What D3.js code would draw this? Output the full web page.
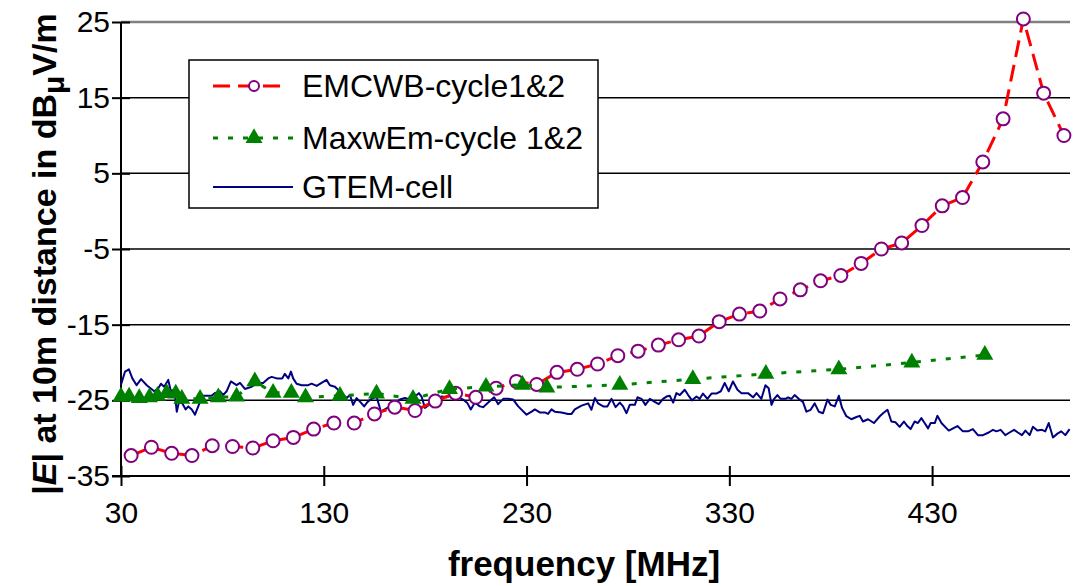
<!DOCTYPE html>
<html>
<head>
<meta charset="utf-8">
<script src="https://cdn.jsdelivr.net/npm/d3@7"></script>
<style>
  body { margin: 0; background: #fff; }
  text { font-family: Arial, "Liberation Sans", sans-serif; }
</style>
</head>
<body>
<script>
// Field strength vs frequency, three measurement methods

const xTicks = [30, 130, 230, 330, 430];
const yTicks = [-35, -25, -15, -5, 5, 15, 25];

// EMCWB-cycle1&2 (one point every 10 MHz)
const emcwbFreq = [35, 45, 55, 65, 75, 85, 95, 105, 115, 125, 135, 145, 155, 165, 175, 185,
    195, 205, 215, 225, 235, 245, 255, 265, 275, 285, 295, 305, 315, 325, 335, 345, 355,
    365, 375, 385, 395, 405, 415, 425, 435, 445, 455, 465, 475, 485, 495];
const emcwbLevel = [-32.3, -31.2, -32.0, -32.3, -31.0, -31.1, -31.3, -30.35, -29.9, -28.8,
    -28.0, -28.0, -26.8, -25.9, -26.35, -25.1, -24.05, -24.6, -23.4, -22.5, -22.9, -21.3,
    -20.9, -20.2, -19.1, -18.5, -17.7, -17.0, -16.5, -14.6, -13.6, -13.2, -11.6, -10.4,
    -9.2, -8.5, -6.9, -5.0, -4.2, -1.9, 0.7, 1.8, 6.5, 12.2, 25.4, 15.6, 10.0];

// MaxwEm-cycle 1&2
const maxwemPoints = [[30, -24.5], [34, -24.5], [39, -24.7], [44, -24.6], [48, -24.4],
    [52.5, -24.05], [57, -24.1], [60, -24.8], [69, -24.8], [78, -24.6], [87, -24.5],
    [96, -22.5], [105, -24.0], [114, -24.0], [121, -24.6], [138, -24.4], [156, -24.1],
    [174, -24.8], [192, -23.5], [210, -23.2], [228, -22.95], [240, -23.3], [276, -22.95],
    [312, -22.2], [348, -21.5], [384, -20.9], [420, -20.0], [456, -19.0]];

// GTEM-cell sweep
const gtemPoints = [[30.0,-22.95],[32.0,-21.2],[33.9,-20.9],[35.6,-22.1],[37.7,-23.0],[39.9,-22.2],
    [42.7,-23.0],[46.4,-23.8],[48.4,-23.4],[49.7,-22.8],[51.3,-23.2],[53.3,-22.3],[54.6,-23.8],
    [56.3,-23.6],[57.5,-26.5],[58.6,-25.2],[60.2,-25.4],[61.9,-26.2],[63.2,-25.8],[64.9,-26.2],
    [66.5,-26.9],[68.1,-25.8],[70.1,-24.4],[72.2,-24.4],[74.7,-24.4],[76.3,-24.05],[78.8,-23.8],
    [80.4,-24.3],[82.1,-23.8],[84.2,-22.5],[87.0,-23.0],[88.7,-22.7],[91.1,-23.5],[94.4,-23.2],
    [97.7,-22.7],[100.1,-22.7],[102.6,-22.1],[104.3,-21.9],[106.8,-22.1],[109.5,-22.1],[110.8,-21.5],
    [112.5,-22.1],[113.8,-21.2],[114.9,-22.1],[116.6,-22.8],[119.1,-23.0],[122.3,-23.0],[124.0,-22.8],
    [126.5,-23.1],[128.9,-22.7],[131.4,-22.3],[133.0,-23.0],[135.5,-23.2],[138.8,-24.05],[141.3,-24.7],
    [142.9,-24.3],[144.5,-25.6],[146.2,-24.7],[148.3,-25.3],[149.9,-25.8],[151.6,-25.2],[153.6,-24.8],
    [156.0,-24.5],[158.2,-26.5],[160.1,-26.2],[162.6,-25.8],[165.1,-25.4],[167.5,-24.9],[170.0,-24.7],
    [172.5,-24.9],[174.9,-24.5],[176.9,-24.05],[178.2,-24.5],[179.9,-26.0],[181.8,-25.6],[184.0,-25.3],
    [186.4,-24.8],[188.1,-24.5],[190.6,-24.6],[193.0,-24.3],[196.3,-24.6],[198.7,-24.9],[200.9,-25.4],
    [202.5,-26.2],[204.5,-25.3],[207.0,-25.8],[208.6,-25.9],[211.1,-25.3],[214.0,-24.6],[216.0,-25.5],
    [218.5,-24.8],[220.9,-24.8],[223.4,-24.9],[225.9,-25.8],[230.0,-26.9],[232.5,-26.5],[234.1,-26.2],
    [236.5,-26.6],[239.0,-26.6],[240.6,-26.8],[242.3,-26.2],[243.9,-26.5],[247.2,-26.6],[250.5,-26.8],
    [252.2,-26.8],[253.8,-26.2],[257.1,-25.7],[260.4,-25.4],[262.0,-26.25],[263.7,-24.7],[265.3,-25.4],
    [267.8,-25.8],[269.9,-25.8],[271.9,-24.8],[273.9,-25.9],[276.0,-25.3],[277.6,-25.8],[279.3,-26.7],
    [280.9,-25.6],[283.4,-25.6],[284.7,-24.6],[286.7,-24.8],[288.6,-25.6],[290.8,-24.8],[293.2,-25.2],
    [295.2,-25.5],[297.3,-24.8],[299.0,-24.5],[300.6,-24.4],[302.3,-25.3],[303.9,-24.05],[305.6,-24.3],
    [308.0,-23.6],[309.7,-24.3],[311.6,-25.0],[313.8,-24.5],[315.4,-24.8],[317.0,-24.1],[319.2,-24.8],
    [321.2,-24.1],[323.6,-24.1],[325.8,-23.8],[327.7,-22.7],[329.7,-23.8],[331.8,-22.5],[334.0,-23.6],
    [336.0,-24.05],[339.2,-24.05],[341.7,-24.6],[343.4,-24.05],[345.8,-24.8],[347.8,-23.0],[349.4,-23.4],
    [350.8,-25.6],[352.1,-24.8],[353.7,-24.3],[355.3,-24.8],[357.7,-24.8],[359.0,-24.6],[360.6,-24.8],
    [362.2,-24.3],[364.2,-24.8],[366.3,-25.2],[368.0,-26.5],[370.1,-26.25],[372.1,-25.4],[374.1,-26.5],
    [376.2,-26.7],[378.4,-24.9],[380.0,-25.6],[382.0,-25.8],[384.0,-24.4],[385.6,-26.0],[387.7,-27.1],
    [390.2,-27.5],[392.7,-27.2],[394.3,-27.05],[395.9,-27.8],[398.4,-27.5],[401.3,-28.0],[404.2,-27.1],
    [405.8,-26.7],[408.0,-26.25],[409.9,-27.8],[411.9,-27.9],[414.0,-28.5],[416.1,-27.8],[417.8,-28.4],
    [419.4,-28.8],[421.4,-27.8],[423.0,-28.0],[424.7,-27.35],[426.3,-28.0],[428.0,-28.7],[429.3,-28.0],
    [431.3,-28.0],[432.6,-27.05],[434.6,-28.0],[438.2,-29.0],[442.5,-28.4],[445.2,-29.1],[447.7,-29.1],
    [450.1,-28.8],[452.6,-29.6],[455.1,-29.6],[457.9,-29.25],[460.0,-28.9],[461.7,-29.1],[463.8,-28.9],
    [466.1,-29.6],[468.2,-29.25],[470.4,-28.9],[472.3,-29.25],[474.3,-29.6],[476.0,-29.0],[478.1,-29.6],
    [479.7,-28.5],[481.9,-29.0],[484.2,-28.9],[485.8,-29.1],[487.5,-28.0],[489.6,-29.9],[491.8,-29.4],
    [493.7,-29.1],[495.7,-29.6],[497.8,-28.8]];

const seriesNames = ["EMCWB-cycle1&2", "MaxwEm-cycle 1&2", "GTEM-cell"];

const width = 1073, height = 586;
const margin = {left: 121, right: 3, top: 22, bottom: 110};

const svg = d3.select("body").append("svg")
    .attr("width", width)
    .attr("height", height);

const x = d3.scaleLinear().domain([30, 498]).range([margin.left, width - margin.right]);
const y = d3.scaleLinear().domain([-35, 25]).range([height - margin.bottom, margin.top]);

// gridlines
svg.append("g")
    .selectAll("line")
    .data(yTicks.filter(t => t > -35))
    .enter().append("line")
    .attr("x1", x.range()[0])
    .attr("x2", x.range()[1])
    .attr("y1", d => y(d))
    .attr("y2", d => y(d))
    .attr("stroke", d => d === 25 ? "#808080" : "#000")
    .attr("stroke-width", d => d === 25 ? 2.5 : 1.5);

// axes (ticks cross the axis line)
let yAxis = svg.append("g")
    .attr("transform", `translate(${x(30)},0)`)
    .call(d3.axisLeft(y).tickValues(yTicks).tickSize(0).tickFormat(d => String(d)));
yAxis.select(".domain").remove();
yAxis.selectAll("text")
    .attr("x", -11)
    .attr("font-size", 30)
    .attr("font-family", "Arial, 'Liberation Sans', sans-serif")
    .attr("fill", "#000");
yAxis.selectAll(".tick").append("line")
    .attr("x1", -9).attr("x2", 9)
    .attr("stroke", "#000").attr("stroke-width", 2);

let xAxis = svg.append("g")
    .attr("transform", `translate(0,${y(-35)})`)
    .call(d3.axisBottom(x).tickValues(xTicks).tickSize(0).tickFormat(d => String(d)));
xAxis.select(".domain").remove();
xAxis.selectAll("text")
    .attr("y", 26)
    .attr("dy", "0.71em")
    .attr("font-size", 30)
    .attr("font-family", "Arial, 'Liberation Sans', sans-serif")
    .attr("fill", "#000");
xAxis.selectAll(".tick").append("line")
    .attr("y1", -10).attr("y2", 10)
    .attr("stroke", "#000").attr("stroke-width", 2);

svg.append("line")
    .attr("x1", x(30) - 9).attr("x2", x.range()[1])
    .attr("y1", y(-35)).attr("y2", y(-35))
    .attr("stroke", "#000").attr("stroke-width", 2);
svg.append("line")
    .attr("x1", x(30)).attr("x2", x(30))
    .attr("y1", y(25)).attr("y2", y(-35))
    .attr("stroke", "#000").attr("stroke-width", 2);

// axis titles
svg.append("text")
    .attr("x", 584)
    .attr("y", 576)
    .attr("text-anchor", "middle")
    .attr("font-size", 35)
    .attr("font-weight", "bold")
    .text("frequency [MHz]");

let yTitle = svg.append("text")
    .attr("transform", "translate(56,254) rotate(-90)")
    .attr("text-anchor", "middle")
    .attr("font-size", 34)
    .attr("font-weight", "bold");
yTitle.append("tspan").text("|");
yTitle.append("tspan").attr("font-style", "italic").text("E");
yTitle.append("tspan").text("| at 10m distance in dB");
yTitle.append("tspan").attr("dy", 8).attr("font-size", 30).text("\u03bc");
yTitle.append("tspan").attr("dy", -8).text("V/m");

const line = d3.line().x(d => x(d[0])).y(d => y(d[1]));
const triangle = d3.symbol().type(d3.symbolTriangle).size(125);

// GTEM-cell
svg.append("path")
    .datum(gtemPoints)
    .attr("d", line)
    .attr("fill", "none")
    .attr("stroke", "#000080")
    .attr("stroke-width", 2)
    .attr("stroke-linejoin", "round");

// EMCWB
const emcwbPoints = emcwbFreq.map((f, i) => [f, emcwbLevel[i]]);
svg.append("path")
    .datum(emcwbPoints)
    .attr("d", line)
    .attr("fill", "none")
    .attr("stroke", "#ff0000")
    .attr("stroke-width", 3)
    .attr("stroke-dasharray", "17,8");
svg.append("g")
    .selectAll("circle")
    .data(emcwbPoints)
    .enter().append("circle")
    .attr("cx", d => x(d[0]))
    .attr("cy", d => y(d[1]))
    .attr("r", 6.5)
    .attr("fill", "#fff")
    .attr("stroke", "#800080")
    .attr("stroke-width", 2);

// MaxwEm
svg.append("path")
    .datum(maxwemPoints)
    .attr("d", line)
    .attr("fill", "none")
    .attr("stroke", "#008000")
    .attr("stroke-width", 3)
    .attr("stroke-dasharray", "5,10");
svg.append("g")
    .selectAll("path")
    .data(maxwemPoints)
    .enter().append("path")
    .attr("d", triangle)
    .attr("transform", d => `translate(${x(d[0])},${y(d[1])})`)
    .attr("fill", "#008000");

// legend
let legend = svg.append("g");
legend.append("rect")
    .attr("x", 189).attr("y", 60)
    .attr("width", 409).attr("height", 148)
    .attr("fill", "#fff")
    .attr("stroke", "#000")
    .attr("stroke-width", 1.5);

const rowY = [86, 138, 187];
legend.append("line")
    .attr("x1", 213).attr("x2", 288).attr("y1", rowY[0]).attr("y2", rowY[0])
    .attr("stroke", "#ff0000").attr("stroke-width", 3).attr("stroke-dasharray", "17,8");
legend.append("circle")
    .attr("cx", 254).attr("cy", rowY[0]).attr("r", 5)
    .attr("fill", "#fff").attr("stroke", "#800080").attr("stroke-width", 2);
legend.append("line")
    .attr("x1", 213).attr("x2", 295).attr("y1", rowY[1]).attr("y2", rowY[1])
    .attr("stroke", "#008000").attr("stroke-width", 3).attr("stroke-dasharray", "5,10");
legend.append("path")
    .attr("d", triangle)
    .attr("transform", `translate(254,${rowY[1]})`)
    .attr("fill", "#008000");
legend.append("line")
    .attr("x1", 213).attr("x2", 293).attr("y1", rowY[2]).attr("y2", rowY[2])
    .attr("stroke", "#000080").attr("stroke-width", 2);

legend.selectAll("text.label")
    .data(seriesNames)
    .enter().append("text")
    .attr("class", "label")
    .attr("x", 302)
    .attr("y", (d, i) => rowY[i] + 11)
    .attr("font-size", 32)
    .text(d => d);
</script>
</body>
</html>
